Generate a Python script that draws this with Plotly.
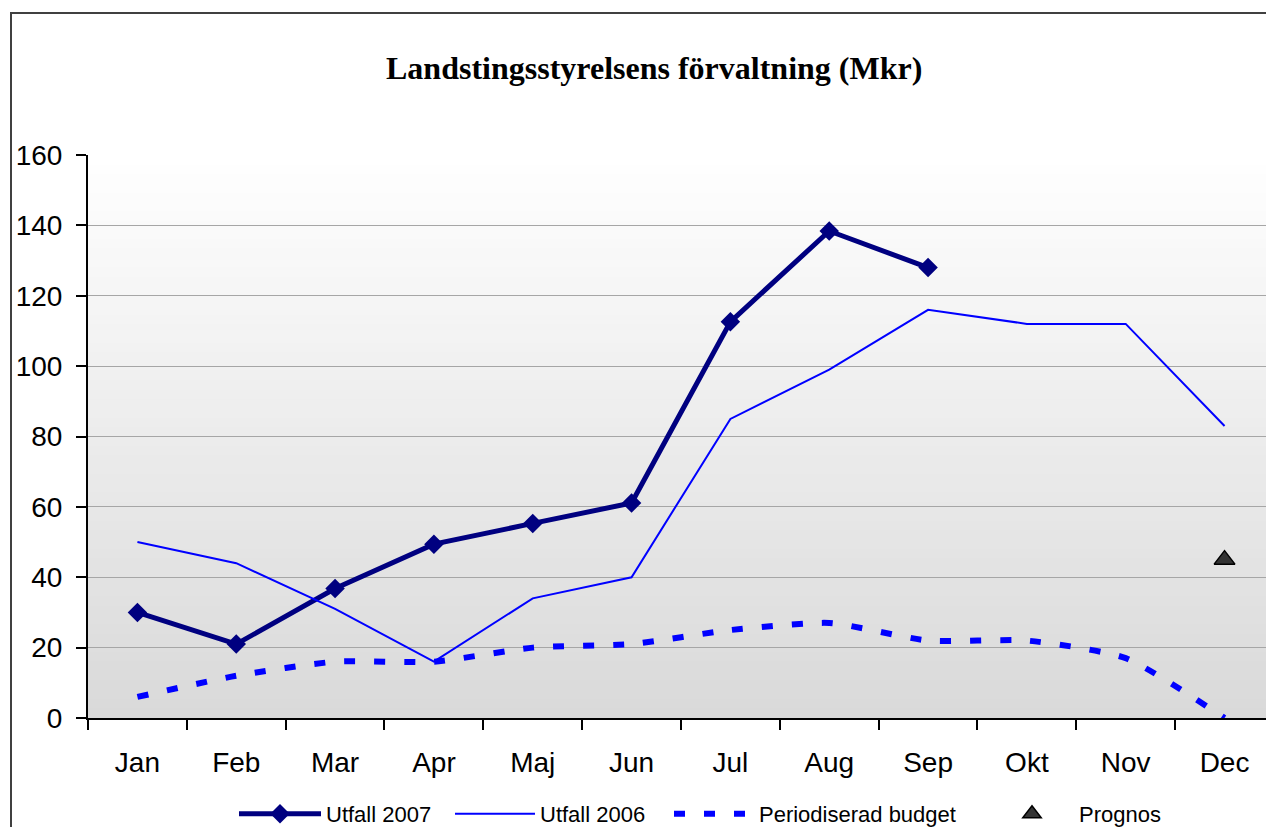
import plotly.graph_objects as go

months = ["Jan", "Feb", "Mar", "Apr", "Maj", "Jun", "Jul", "Aug", "Sep", "Okt", "Nov", "Dec"]
utfall_2007 = [30, 21, 36.8, 49.4, 55.3, 61.1, 112.6, 138.4, 128]
utfall_2006 = [50, 44, 31, 16, 34, 40, 85, 99, 116, 112, 112, 83]
budget = [6, 12, 16, 16, 20, 21, 25, 27, 22, 22, 17, 0]
prognos_month = ["Dec"]
prognos = [45]
y_ticks = [0, 20, 40, 60, 80, 100, 120, 140, 160]
title_text = "<b>Landstingsstyrelsens förvaltning (Mkr)</b>"

# figure geometry (page body has an 8px margin)
W, H = 1258, 819
L, T, R, B = 80, 147, 0, 109
PW, PH = W - L - R, H - T - B
CAT = 98.83  # px per category in the reference


def px(x_screen):
    return (x_screen - 8 - L) / PW


def py(y_screen):
    return (H - B - (y_screen - 8)) / PH


fig = go.Figure()

fig.add_trace(go.Scatter(
    x=months[:len(utfall_2007)], y=utfall_2007, name="Utfall 2007",
    mode="lines+markers", legend="legend",
    line=dict(color="#000080", width=5),
    marker=dict(symbol="diamond", size=15, color="#000080"),
))
fig.add_trace(go.Scatter(
    x=months, y=utfall_2006, name="Utfall 2006", legend="legend2",
    mode="lines", line=dict(color="#0000FF", width=2),
))
fig.add_trace(go.Scatter(
    x=months, y=budget, name="Periodiserad budget", legend="legend3",
    mode="lines", line=dict(color="#0000FF", width=6, dash="11px,19px", shape="spline", smoothing=0.6),
))
fig.add_trace(go.Scatter(
    x=prognos_month, y=prognos, name="Prognos", legend="legend4",
    mode="markers",
    marker=dict(symbol="triangle-up", size=18, color="#333333", line=dict(color="#000000", width=1.5)),
))

# gradient background bands (white at top to grey at bottom)
n = 60
shapes = []
for i in range(n):
    t = (i + 0.5) / n
    c = int(round(255 - (255 - 217) * (1 - t)))
    shapes.append(dict(type="rect", xref="paper", yref="paper",
                       x0=0, x1=1, y0=i / n, y1=(i + 1) / n + 0.002,
                       fillcolor=f"rgb({c},{c},{c})", line=dict(width=0), layer="below"))
# outer chart frame
shapes.append(dict(type="rect", xref="paper", yref="paper",
                   x0=px(11), x1=1.05, y0=-0.4, y1=py(13),
                   line=dict(color="#404040", width=2), fillcolor="rgba(0,0,0,0)", layer="above"))

leg_font = dict(size=22, family="Liberation Sans, Arial, sans-serif", color="black")
leg_y = py(814)


def leg(x_start, itemwidth):
    return dict(orientation="h", x=px(x_start) - 8 / PW, xanchor="left", y=leg_y, yanchor="middle",
                font=leg_font, bgcolor="rgba(0,0,0,0)", itemwidth=itemwidth,
                itemclick=False, itemdoubleclick=False)


fig.update_layout(
    width=W, height=H,
    margin=dict(l=L, r=R, t=T, b=B, pad=0, autoexpand=False),
    paper_bgcolor="white",
    plot_bgcolor="rgba(0,0,0,0)",
    font=dict(family="Liberation Sans, Arial, sans-serif", color="black"),
    shapes=shapes,
    showlegend=True,
    legend=leg(242, 82),
    legend2=leg(458, 80),
    legend3=leg(677, 80),
    legend4=leg(993, 84),
    annotations=[dict(text=title_text, xref="paper", yref="paper",
                      x=px(654), y=py(68), xanchor="center", yanchor="middle",
                      showarrow=False,
                      font=dict(family="Liberation Serif, Times New Roman, serif", size=32, color="black"))],
)

fig.update_xaxes(
    type="category", categoryorder="array", categoryarray=months,
    range=[-0.5, -0.5 + PW / CAT], tickson="boundaries",
    showline=True, linecolor="black", linewidth=2,
    ticks="outside", ticklen=10, tickwidth=2, tickcolor="black",
    showgrid=False, zeroline=False,
    tickfont=dict(size=28), ticklabelstandoff=18,
)
fig.update_yaxes(
    range=[0, 160], tickvals=y_ticks,
    showline=True, linecolor="black", linewidth=2,
    ticks="outside", ticklen=10, tickwidth=1.5, tickcolor="black",
    showgrid=True, gridcolor="#a6a6a6", gridwidth=1.2, zeroline=False,
    tickfont=dict(size=28), ticklabelstandoff=8,
)

fig.write_html("out.html")
